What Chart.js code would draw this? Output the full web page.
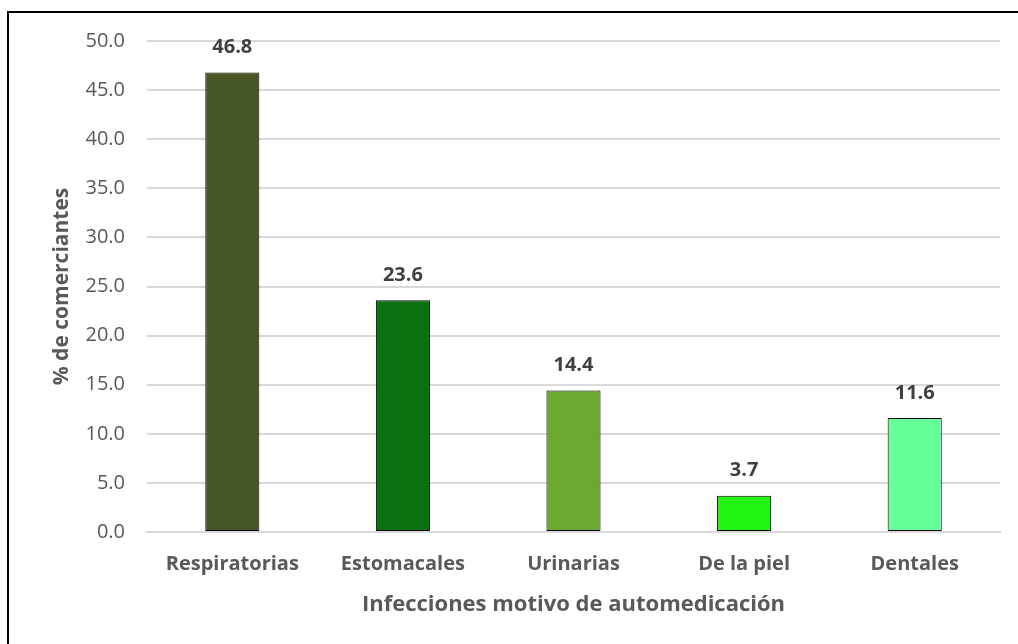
<!DOCTYPE html>
<html>
<head>
<meta charset="utf-8">
<script src="https://cdn.jsdelivr.net/npm/chart.js@4.4.0/dist/chart.umd.min.js"></script>
<style>
  html, body { margin: 0; padding: 0; background: #fff; }
  .frame {
    position: absolute;
    left: 7px; top: 11px;
    width: 1009px; height: 631px;
    border-top: 2px solid #000;
    border-left: 2px solid #000;
  }
  #chart { display: block; }
</style>
</head>
<body>
<div class="frame"><canvas id="chart" width="1009" height="631"></canvas></div>
<script>
// Data
const categories = ['Respiratorias', 'Estomacales', 'Urinarias', 'De la piel', 'Dentales'];
const percentages = [46.8, 23.6, 14.4, 3.7, 11.6];
const barColors = ['#475625', '#0a7010', '#6aa92f', '#22f50f', '#66ff99'];
const yTicks = [0, 5, 10, 15, 20, 25, 30, 35, 40, 45, 50];

const fontFamily = "'Open Sans', 'Noto Sans', sans-serif";
const textColor = '#595959';

// value labels above bars
const barLabels = {
    id: 'barLabels',
    afterDatasetsDraw(chart) {
        const ctx = chart.ctx;
        const meta = chart.getDatasetMeta(0);
        ctx.save();
        ctx.font = 'bold 20px ' + fontFamily;
        ctx.fillStyle = '#404040';
        ctx.textAlign = 'center';
        ctx.textBaseline = 'middle';
        meta.data.forEach((bar, i) => {
            ctx.fillText(percentages[i].toFixed(1), bar.x, bar.y - 25);
        });
        ctx.restore();
    }
};

const ctx = document.getElementById('chart').getContext('2d');
const chart = new Chart(ctx, {
    type: 'bar',
    data: {
        labels: categories,
        datasets: [{
            data: percentages,
            backgroundColor: barColors,
            borderColor: '#000',
            borderWidth: 1,
            borderSkipped: false,
            categoryPercentage: 1,
            barPercentage: 0.317
        }]
    },
    options: {
        responsive: false,
        animation: false,
        layout: {
            padding: { top: 28, right: 18, left: 40, bottom: 22 }
        },
        plugins: {
            legend: { display: false },
            tooltip: { enabled: false }
        },
        scales: {
            x: {
                grid: { display: false },
                border: { color: '#d9d9d9', width: 2 },
                ticks: {
                    color: textColor,
                    font: { family: fontFamily, size: 20, weight: 'bold' },
                    padding: 12
                },
                title: {
                    display: true,
                    text: 'Infecciones motivo de automedicación',
                    color: textColor,
                    font: { family: fontFamily, size: 22, weight: 'bold' },
                    padding: { top: 8 }
                },
                afterFit(scale) { scale.height = 90; }
            },
            y: {
                min: 0,
                max: 50,
                afterBuildTicks(scale) {
                    scale.ticks = yTicks.map(v => ({ value: v }));
                },
                grid: {
                    color: '#d9d9d9',
                    lineWidth: 2,
                    drawTicks: false
                },
                border: { display: false },
                ticks: {
                    color: textColor,
                    font: { family: fontFamily, size: 20 },
                    padding: 22,
                    callback: function(value) {
                        return Number(value).toFixed(1);
                    }
                },
                title: {
                    display: true,
                    text: '% de comerciantes',
                    color: textColor,
                    font: { family: fontFamily, size: 21, weight: 'bold' },
                    padding: 0
                },
                afterFit(scale) {
                    scale.width = 98;
                    scale.paddingTop = 0;
                    scale.paddingBottom = 0;
                }
            }
        }
    },
    plugins: [barLabels]
});
</script>
</body>
</html>
